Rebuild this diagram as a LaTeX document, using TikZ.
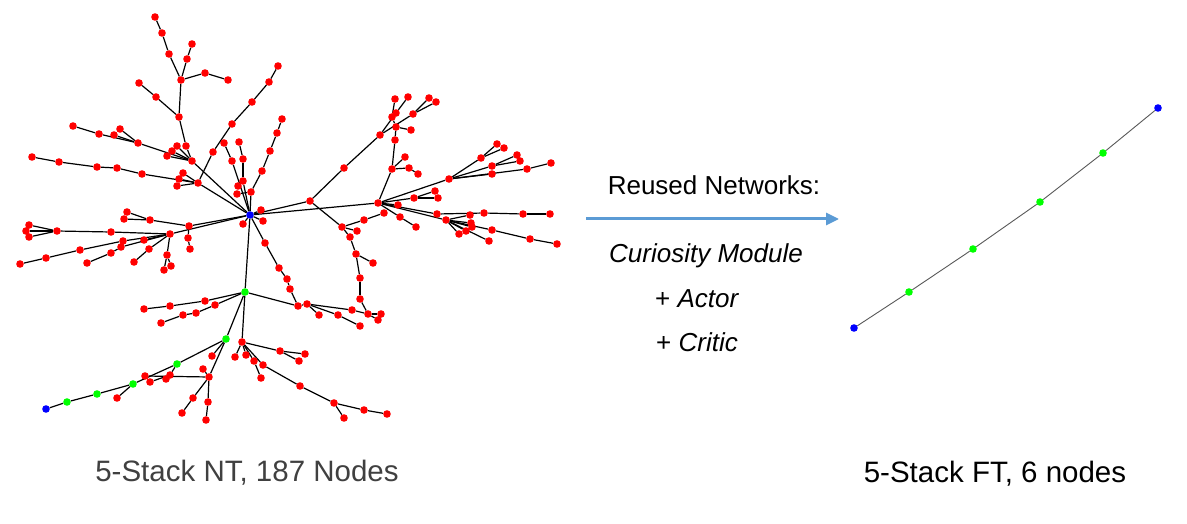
\documentclass[tikz,border=0pt]{standalone}
\usepackage{fontspec}
\setmainfont{Liberation Sans}
\usetikzlibrary{arrows.meta,backgrounds}
\definecolor{arrowblue}{RGB}{91,155,213}
\definecolor{ntgray}{RGB}{64,64,64}
\definecolor{ngreen}{RGB}{0,255,0}
\definecolor{nred}{RGB}{255,0,0}
\definecolor{nblue}{RGB}{0,0,255}
\tikzset{
  rn/.style={circle,fill=nred,draw=none,inner sep=0pt,minimum size=7.6pt},
  gn/.style={circle,fill=ngreen,draw=none,inner sep=0pt,minimum size=7.6pt},
  bn/.style={circle,fill=nblue,draw=none,inner sep=0pt,minimum size=7.6pt},
  edge/.style={line width=1.2pt,black},
  ftedge/.style={line width=0.9pt,black!65},
  lbl/.style={inner sep=0pt,anchor=base,font=\fontsize{26}{30}\selectfont},
  captxt/.style={inner sep=0pt,anchor=base,font=\fontsize{29.5}{34}\selectfont}
}
\begin{document}
\begin{tikzpicture}[x=1pt,y=-1pt]
\useasboundingbox (0,0) rectangle (1187,524);
% red nodes of the NT tree
\foreach \n/\x/\y in {1/155/17,2/162/33,3/169/54,4/181/80,5/192/44,6/187/59,7/205/73,8/228/80,9/139/83,10/156/97,11/179/117,12/186/146,13/192/161,14/177/146,15/172/151,16/167/156,17/138/143,18/73/126,19/99/134,20/114/135,21/120/129,
22/278/66,23/269/82,24/252/102,25/232/124,26/213/152,27/198/183,28/32/157,29/59/162,30/97/167,31/117/168,32/142/174,33/183/173,34/179/179,35/177/186,
36/224/143,37/232/161,38/239/142,39/243/181,40/243/159,41/238/186,42/237/194,43/251/192,44/262/171,45/270/151,46/277/133,47/282/119,
48/261/210,49/263/221,50/243/224,
51/189/226,52/170/234,53/150/220,54/127/212,55/124/219,56/111/232,57/57/231,58/29/225,59/26/231,60/29/237,61/123/241,62/80/250,63/46/258,64/20/264,65/144/240,66/121/247,67/111/253,68/87/263,69/149/249,70/134/262,71/167/255,72/171/266,73/164/270,74/188/238,75/190/249,
76/310/201,77/344/168,78/380/135,79/392/117,80/395/99,81/396/113,82/408/97,83/413/114,84/429/98,85/436/102,86/342/227,87/364/220,88/357/231,89/350/237,90/356/254,91/373/263,92/360/278,93/360/299,
94/378/203,95/392/169,96/395/140,97/396/127,98/411/130,99/405/157,100/409/168,101/418/174,
102/449/179,103/481/158,104/497/144,105/504/148,106/492/166,107/517/155,108/520/161,109/527/169,110/551/163,111/492/174,
112/414/198,113/435/191,114/438/198,115/398/205,116/384/213,117/400/217,118/416/227,119/437/214,120/470/215,121/484/213,122/523/214,123/550/214,124/446/220,125/471/223,126/472/227,127/466/231,128/459/234,129/489/241,130/492/230,131/530/239,132/557/244,
134/205/301,135/170/306,136/144/309,137/215/305,138/196/313,139/183/315,140/161/323,
142/265/243,143/279/268,144/287/279,145/290/289,146/298/306,147/307/304,148/319/315,149/338/315,150/352/310,151/368/314,152/381/314,153/378/320,154/360/326,
161/117/398,162/145/376,163/150/382,164/166/379,165/170/375,166/242/342,167/280/351,168/305/354,169/299/361,170/235/357,171/246/355,172/254/361,173/261/378,174/263/365,175/300/386,176/334/403,177/344/418,178/364/410,179/387/414,180/212/356,181/209/377,182/203/369,183/193/398,184/208/402,185/206/420,186/182/413}
  \node[rn] (n\n) at (\x,\y) {};
% green nodes of the NT tree
\foreach \n/\x/\y in {133/245/292,155/226/339,156/177/364,157/133/384,158/97/394,159/67/402}
  \node[gn] (n\n) at (\x,\y) {};
% blue nodes of the NT tree
\node[bn] (nB) at (250,215) {};
\node[bn] (n160) at (46,409) {};
% FT chain
\node[bn] (r1) at (854,328) {};
\node[gn] (r2) at (909,292) {};
\node[gn] (r3) at (973,249) {};
\node[gn] (r4) at (1040,202) {};
\node[gn] (r5) at (1103,153) {};
\node[bn] (r6) at (1158,108) {};
% edges, behind the nodes
\begin{pgfonlayer}{background}
\fill[white] (0,0) rectangle (1187,524);
\foreach \a/\b in {1/2,2/3,3/4,5/6,6/4,4/7,7/8,4/11,9/10,10/11,11/12,12/13,14/13,15/13,16/13,17/13,18/19,19/17,20/17,21/17,13/B,
22/23,23/24,24/25,25/26,26/27,28/29,29/30,30/31,31/32,32/27,33/27,34/27,35/27,27/B,
36/37,37/B,38/40,40/39,39/B,41/39,42/43,47/46,46/45,45/44,44/43,43/B,
48/B,49/B,50/B,
51/B,52/B,53/51,54/53,55/53,56/52,57/56,58/57,59/57,60/57,61/52,62/61,63/62,64/63,65/52,66/52,67/66,68/67,69/52,70/69,71/52,72/71,73/71,74/51,75/74,
B/76,76/77,77/78,78/81,81/82,78/83,83/84,83/85,76/86,86/87,87/116,86/88,86/89,89/90,90/91,90/92,92/93,93/151,
B/94,94/95,95/96,96/97,97/79,79/80,97/98,95/99,95/100,100/101,
94/102,102/103,103/104,103/105,102/106,106/107,106/108,102/109,109/110,102/111,
94/112,112/113,112/114,94/115,94/117,117/118,94/119,119/121,121/122,122/123,94/124,124/120,124/125,124/126,124/127,124/128,124/129,124/130,130/131,131/132,
B/133,133/134,134/135,135/136,133/137,137/138,138/139,139/140,
B/142,142/143,143/144,144/145,145/146,133/146,146/147,147/148,147/149,149/154,147/150,150/151,151/152,151/153,
133/155,155/156,156/157,157/158,158/159,159/160,157/161,162/181,163/165,164/165,165/156,
133/166,166/167,167/168,167/169,166/170,166/171,166/172,172/173,166/174,174/175,175/176,176/177,176/178,178/179,
155/180,155/181,181/182,181/183,181/184,184/185,186/183}
  \draw[edge] (n\a) -- (n\b);
\draw[ftedge] (r1) -- (r2) -- (r3) -- (r4) -- (r5) -- (r6);
\end{pgfonlayer}
% middle arrow and texts
\coordinate (as) at (586,219);
\coordinate (ae) at (839,219);
\draw[arrowblue,line width=3pt,-{Triangle[length=13pt,width=12pt]}] (as) -- (ae);
\node[lbl] (t1) at (714,194) {Reused Networks:};
\node[lbl] (t2) at (706,262) {\itshape Curiosity Module};
\node[lbl,anchor=base west] (t3) at (655,307) {+ \itshape Actor};
\node[lbl,anchor=base west] (t4) at (656,351) {+ \itshape Critic};
\node[captxt,text=ntgray] (c1) at (247,481) {5-Stack NT, 187 Nodes};
\node[captxt] (c2) at (995,482) {5-Stack FT, 6 nodes};
\end{tikzpicture}
\end{document}
